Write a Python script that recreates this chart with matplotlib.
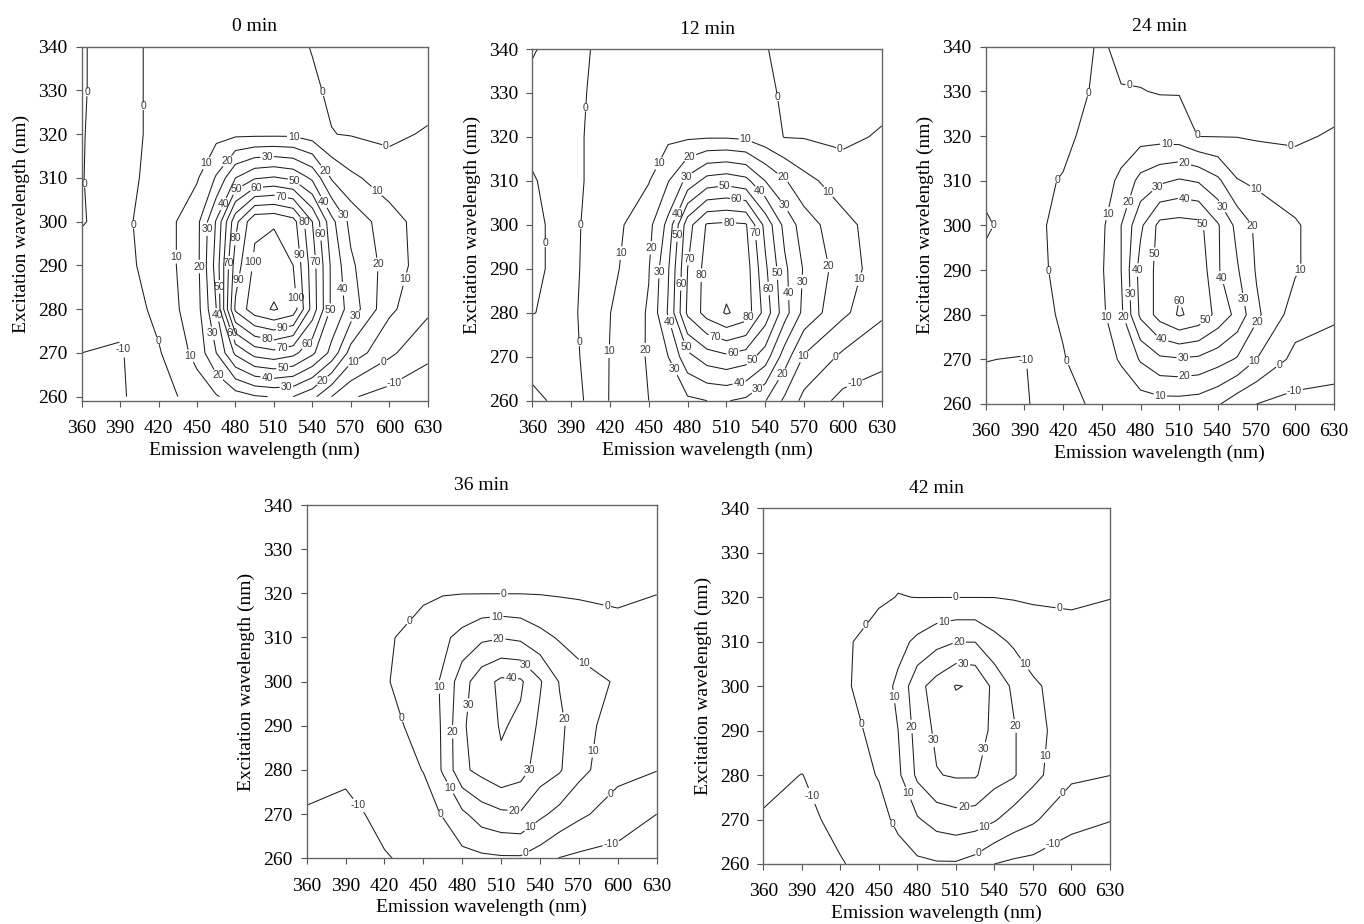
import numpy as np
import matplotlib
matplotlib.use("Agg")
import matplotlib.pyplot as plt

# ---------------- data ----------------
EMISSION = [360, 390, 420, 450, 465, 480, 495, 510, 525, 540, 555, 570, 600, 630]
EXCITATION_TOP_DOWN = [340, 330, 320, 310, 300, 290, 280, 270, 260]

TITLES = ["0 min", "12 min", "24 min", "36 min", "42 min"]
LEVELS = [-10, 0, 10, 20, 30, 40, 50, 60, 70, 80, 90, 100, 110]
X_TICKS = [360, 390, 420, 450, 480, 510, 540, 570, 600, 630]
Y_TICKS = [260, 270, 280, 290, 300, 310, 320, 330, 340]

# rows: excitation 340 -> 260 ; columns: EMISSION
eem_0min = [
    [0.5, -3, 2, 4, 5, 5, 4, 3, 1.5, -0.3, -2, -3, -4, -5],
    [0.5, -3, 2, 4, 5, 5, 5, 4, 3, 1, -1, -3, -4, -4],
    [0.3, -3, 2, 5, 7, 8, 8, 8, 8, 5, 0.2, -0.5, -2, 1],
    [0.2, -3, 3, 9, 21, 40, 49, 51, 48, 38, 19, 12, 5, 2],
    [0.3, -2, 4, 17, 41, 77, 98, 99, 94, 70, 43, 27, 14, 5],
    [-2, -3, 4, 17, 44, 85, 102, 105, 100, 75, 48, 32, 15, 5],
    [-6, -7, 3, 16, 40, 92, 106, 111, 106, 76, 48, 36, 12, 2],
    [-10, -11, -1, 13, 30, 52, 64, 67, 63, 52, 37, 16, 2, -8],
    [-15, -11, -5, 5, 9, 15, 19, 20.5, 20, 13, 0, -9, -14, -16],
]
eem_12min = [
    [0.3, -2, 2, 4, 5, 5, 5, 4, 2, 0.2, -1, -2, -3, -4],
    [-1, -2, 3, 5, 6, 6, 6, 5, 4, 1.5, -1, -2, -3, -3],
    [-1, -2, 4, 6, 8, 8.5, 9, 9, 8, 4, -0.3, -0.5, -2, 1],
    [0.3, -2, 4, 9.5, 19.5, 33, 44, 46, 43, 30, 21, 13, 5, 2],
    [1, -2, 6, 17, 33, 66, 81, 82, 81, 57, 37, 25, 13, 5],
    [1, -2, 7, 19.5, 39, 70, 84, 86, 85, 62, 42, 29, 15, 5],
    [0.2, -2, 9.8, 21, 41, 72, 84, 91, 86, 66, 44, 27, 12, 1.5],
    [-5, -3, 10.3, 21, 30, 47, 55, 58, 55, 45, 25, 9, -2, -7],
    [-13, -5, 10.5, 20, 24, 28, 30, 30.5, 28, 20.5, 8, -3, -13, -16],
]
eem_24min = [
    [-2, -3, -2, 0.5, -1, -3, -3, -4, -4, -4, -4, -5, -5, -5],
    [-2, -3, -4, 2, 0.2, 0.3, -0.5, -0.5, -3, -3.5, -3.5, -4, -4, -4],
    [-2, -3, -2, 4, 5, 6, 6, 5, -0.3, -0.4, -0.3, -1, -1.5, 1],
    [-1, -2.5, 0.5, 6, 12, 23, 28, 31, 29, 22, 10.5, 8, 5, 3],
    [0.5, -2, 1.5, 8, 20, 38, 53, 54, 53, 41, 27, 18, 11, 4],
    [-1, -2.5, 1.5, 9, 20, 44, 53, 58, 57, 41, 31, 19, 11, 4],
    [-4, -4, 1, 8, 18, 42, 54, 61, 57, 47, 37, 22, 5, 1.5],
    [-9.8, -10.5, -0.5, 6, 11, 21, 28, 29, 28, 24, 19, 10, -3, -5],
    [-13, -11, -4, 3, 4, 5, 6, 6, 5, 1, -6, -10, -13, -14],
]
eem_36min = [
    [-5, -4, -3, -3, -3, -3, -3, -3, -3, -3, -3, -3, -4, -4],
    [-4, -3, -3, -2, -2, -2, -2, -2, -2, -2, -2, -2, -3, -3],
    [-3, -2.5, -2, -1.5, -0.5, -0.2, -0.2, -0.2, -0.2, -0.4, -0.8, -1, -1.5, -0.1],
    [-2, -2, -1.5, 4, 8, 13, 18, 19.5, 18, 13, 9, 6, 3, 3],
    [-2, -2, -1, 6, 11, 26, 36, 42, 41.5, 31, 19.5, 14, 9, 4],
    [-3, -3, -3, 3, 11, 29, 34, 41, 38, 28, 22, 15, 4, 2],
    [-8, -8.5, -4, 0.2, 11, 28, 33, 38, 34, 25, 21, 13, 3, 0.3],
    [-10.5, -12, -8, -3, 0.5, 8, 15, 18, 19, 12, 7, 2, -5, -10],
    [-15, -13, -10.5, -8, -6, -3, -2, -1.2, -1.2, -5, -10.3, -12, -13, -14],
]
eem_42min = [
    [-4, -4, -3, -3, -3, -3, -3, -3, -3, -3, -3, -3, -4, -4],
    [-3, -3, -2.5, -2, -2, -2, -2, -2, -2, -2, -2, -2, -3, -3],
    [-2.5, -2.5, -2, -1, 0.2, -0.1, -0.1, -0.1, -0.1, -0.1, -0.6, -1, -1.2, -0.1],
    [-2, -2, -1.5, 3, 7, 12, 17, 19.8, 19.8, 13, 8.5, 5, 3, 2],
    [-2, -2, -2, 5, 12, 27, 34, 40.5, 39, 27, 18, 11.5, 5, 3],
    [-3, -3, -3, 2, 10, 24, 32, 35, 34, 28, 21, 13, 5, 3],
    [-7, -10.2, -5, 0.5, 8, 22, 29.5, 31, 31, 24, 21, 13, 2, 0.1],
    [-11, -12, -8, -3, 2, 9, 14, 16, 15, 11, 5, 1.5, -8, -9.8],
    [-15, -14, -10.5, -7, -4, -2, -1, -1, -4, -10, -12, -13, -14, -14],
]
PANELS = [eem_0min, eem_12min, eem_24min, eem_36min, eem_42min]

# ---------------- layout (pixel boxes: left, top, right, bottom) -------
W, H = 1364, 924
BOXES = [
    (81.7, 46.7, 427.7, 401.0),
    (532.3, 49.0, 881.7, 400.7),
    (985.7, 46.7, 1334.0, 404.0),
    (306.7, 505.0, 656.7, 858.3),
    (763.3, 508.3, 1110.0, 864.0),
]
YLOW = [259.0, 260, 260, 260, 260]

plt.rcParams["font.family"] = ["Liberation Serif", "DejaVu Serif"]
plt.rcParams["contour.negative_linestyle"] = "solid"
fig = plt.figure(figsize=(W / 100, H / 100), dpi=100)
fig.patch.set_facecolor("white")

X = np.array(EMISSION, dtype=float)
Y = np.array(EXCITATION_TOP_DOWN[::-1], dtype=float)


def label_positions(ax, cs, spacing_px=105, min_len=30, min_gap=17):
    """Points spread along each contour path (computed from the contours)."""
    pts, placed = [], []
    for segs in cs.allsegs:
        for seg in segs:
            if len(seg) < 2:
                continue
            d = ax.transData.transform(seg)
            step = np.hypot(*np.diff(d, axis=0).T)
            L = step.sum()
            if L < min_len:
                continue
            n = max(1, int(round(L / spacing_px)))
            cum = np.concatenate([[0.0], np.cumsum(step)])
            offsets = [0.5] if n == 1 else [0.5, 0.3, 0.7, 0.2, 0.8]
            for j in range(n):
                cand = None
                for off in offsets:
                    tgt = (j + off) * L / n
                    k = max(min(np.searchsorted(cum, tgt), len(seg) - 1), 1)
                    f = (tgt - cum[k - 1]) / max(step[k - 1], 1e-9)
                    pd = d[k - 1] + f * (d[k] - d[k - 1])
                    if all(np.hypot(*(pd - q)) > min_gap for q in placed):
                        cand = (k, f, pd)
                        break
                if cand is None:
                    continue
                k, f, pd = cand
                placed.append(pd)
                p = seg[k - 1] + f * (seg[k] - seg[k - 1])
                pts.append((p[0], p[1]))
    return pts


for i, (vals, title, box, ylo) in enumerate(zip(PANELS, TITLES, BOXES, YLOW)):
    l, t, r, b = box
    ax = fig.add_axes([l / W, 1 - b / H, (r - l) / W, (b - t) / H])
    ax.set_xlim(360, 630)
    ax.set_ylim(ylo, 340)
    Z = np.array(vals, dtype=float)[::-1]
    cs = ax.contour(X, Y, Z, levels=LEVELS, colors="#1e1e1e",
                    linewidths=0.75, linestyles="solid")
    ax.set_xlim(360, 630)
    ax.set_ylim(ylo, 340)
    pts = label_positions(ax, cs)
    with plt.rc_context({"font.family": ["Liberation Sans", "DejaVu Sans"]}):
        ax.clabel(cs, fmt="%d", fontsize=7.5, inline=True,
                  inline_spacing=1, colors="#3a3a3a", manual=pts)
    for tx in cs.labelTexts:
        tx.set_rotation(0)
    ax.set_xticks(X_TICKS)
    ax.set_yticks(Y_TICKS)
    ax.tick_params(axis="both", direction="out", length=4, width=0.8,
                   color="#555555", labelsize=14)
    ax.tick_params(axis="x", pad=10)
    ax.tick_params(axis="y", pad=6)
    for sp in ax.spines.values():
        sp.set_color("#666666")
        sp.set_linewidth(1.0)
    ax.set_title(title, fontsize=14, pad=11)
    ax.set_xlabel("Emission wavelength (nm)", fontsize=14, labelpad=3)
    ax.set_ylabel("Excitation wavelength (nm)", fontsize=14, labelpad=6)

fig.savefig("out.png", dpi=100, facecolor="white")
